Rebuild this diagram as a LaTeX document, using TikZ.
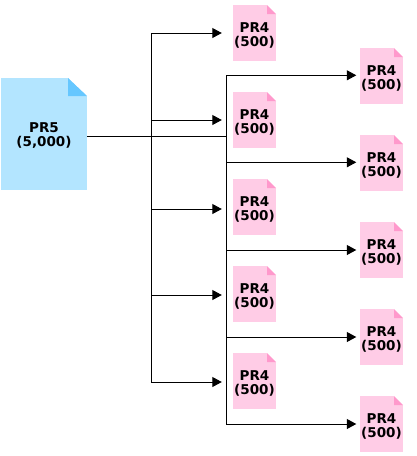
\documentclass[tikz,border=0pt]{standalone}
\usepackage{fontspec}
\setmainfont{DejaVu Sans}
\usetikzlibrary{positioning,arrows.meta,calc}
\definecolor{bigpage}{HTML}{B3E5FF}
\definecolor{bigfold}{HTML}{66C7FF}
\definecolor{smallpage}{HTML}{FFCCE6}
\definecolor{smallfold}{HTML}{FF99CC}
\newcommand{\doclabel}[2]{\raisebox{-13.5pt}[0pt][0pt]{\shortstack{#1\\[0.5pt]#2}}}
\tikzset{
  flowline/.style={line width=1pt},
  flowarrow/.style={-{Triangle[length=9.5pt,width=10pt]}, line width=1pt, shorten >=11pt},
  rightarrow/.style={flowarrow, shorten >=3.5pt},
  docbig/.style={fill=bigpage, minimum width=86pt, minimum height=112pt, inner sep=0pt,
    font=\bfseries\fontsize{13.5}{14}\selectfont,
    path picture={
      \fill[white] ($(path picture bounding box.north east)+(-19pt,0)$) -- (path picture bounding box.north east) -- ($(path picture bounding box.north east)+(0,-18pt)$) -- cycle;
      \fill[bigfold] ($(path picture bounding box.north east)+(-19pt,0)$) -- ($(path picture bounding box.north east)+(0,-18pt)$) -- ($(path picture bounding box.north east)+(-19pt,-18pt)$) -- cycle;
    }},
  docsmall/.style={fill=smallpage, minimum width=43pt, minimum height=56pt, inner sep=0pt,
    font=\bfseries\fontsize{13.5}{14}\selectfont,
    path picture={
      \fill[white] ($(path picture bounding box.north east)+(-9pt,0)$) -- (path picture bounding box.north east) -- ($(path picture bounding box.north east)+(0,-9pt)$) -- cycle;
      \fill[smallfold] ($(path picture bounding box.north east)+(-9pt,0)$) -- ($(path picture bounding box.north east)+(0,-9pt)$) -- ($(path picture bounding box.north east)+(-9pt,-9pt)$) -- cycle;
    }}
}
\begin{document}
\begin{tikzpicture}[x=1pt, y=-1pt]
  \useasboundingbox (0,0) rectangle (416,456);
  \node[docbig] (pr5) at (44,134) {\raisebox{2.5pt}{\doclabel{PR5}{(5,000)}}};
  \node[docsmall] (a1) at (254.5,33) {\doclabel{PR4}{(500)}};
  \node[docsmall] (a2) at (254.5,120) {\doclabel{PR4}{(500)}};
  \node[docsmall] (a3) at (254.5,207) {\doclabel{PR4}{(500)}};
  \node[docsmall] (a4) at (254.5,294) {\doclabel{PR4}{(500)}};
  \node[docsmall] (a5) at (254.5,381) {\doclabel{PR4}{(500)}};
  \node[docsmall] (b1) at (381.5,76) {\doclabel{PR4}{(500)}};
  \node[docsmall] (b2) at (381.5,163) {\doclabel{PR4}{(500)}};
  \node[docsmall] (b3) at (381.5,250) {\doclabel{PR4}{(500)}};
  \node[docsmall] (b4) at (381.5,337) {\doclabel{PR4}{(500)}};
  \node[docsmall] (b5) at (381.5,424) {\doclabel{PR4}{(500)}};
  \coordinate (railA) at (151.5,136.5);
  \coordinate (railB) at (226.5,136.5);
  \draw[flowline] (pr5.east |- railA) -- (railB);
  \draw[flowarrow] (railA) |- (a1.west);
  \draw[flowarrow] (railA) |- (a2.west);
  \draw[flowarrow] (railA) |- ([yshift=-2pt]a3.west);
  \draw[flowarrow] (railA) |- ([yshift=-1pt]a4.west);
  \draw[flowarrow] (railA) |- ([yshift=-1pt]a5.west);
  \draw[rightarrow] (railB) |- ([yshift=0.7pt]b1.west);
  \draw[rightarrow] (railB) |- ([yshift=0.7pt]b2.west);
  \draw[rightarrow] (railB) |- (b3.west);
  \draw[rightarrow] (railB) |- (b4.west);
  \draw[rightarrow] (railB) |- (b5.west);
\end{tikzpicture}
\end{document}
